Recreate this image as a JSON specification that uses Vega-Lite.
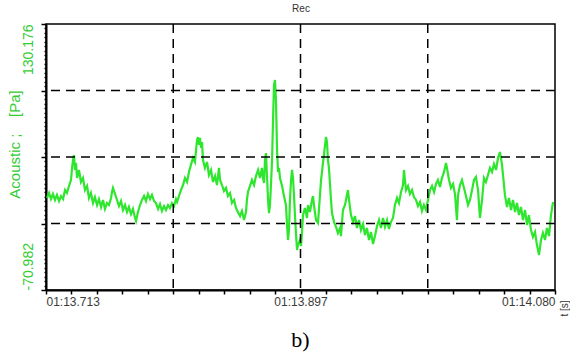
{
  "$schema": "https://vega.github.io/schema/vega-lite/v6.json",
  "width": 509,
  "height": 266,
  "autosize": {"type": "none"},
  "padding": {"left": 46, "top": 24, "right": 15, "bottom": 71},
  "background": "white",
  "config": {"view": {"stroke": "black", "strokeWidth": 1.5}, "font": "Liberation Sans"},
  "title": {"text": "b)", "orient": "bottom", "font": "Liberation Serif", "fontSize": 22, "fontWeight": "normal", "color": "black", "offset": 14},
  "datasets": {
    "signal": [
      {"t":0.7,"p":-1.4},{"t":2.2,"p":2.4},{"t":3.6,"p":-2.2},{"t":5.0,"p":1.6},{"t":6.5,"p":-2.9},{"t":7.9,"p":0.9},{"t":9.4,"p":-3.7},{"t":10.8,"p":0.1},{"t":12.3,"p":-2.2},{"t":13.7,"p":4.6},{"t":15.1,"p":2.4},{"t":16.6,"p":7.7},{"t":18.0,"p":12.2},{"t":18.8,"p":21.3},{"t":19.5,"p":27.3},{"t":20.2,"p":31.1},{"t":20.9,"p":19.8},{"t":21.6,"p":25.1},{"t":22.4,"p":13.7},{"t":23.8,"p":19.8},{"t":25.2,"p":10.7},{"t":26.7,"p":13.7},{"t":28.1,"p":4.6},{"t":29.6,"p":7.7},{"t":31.0,"p":-1.4},{"t":32.4,"p":2.4},{"t":33.9,"p":-5.2},{"t":35.3,"p":-0.7},{"t":36.8,"p":-6.7},{"t":38.2,"p":-2.2},{"t":39.7,"p":-8.2},{"t":41.1,"p":-2.9},{"t":42.5,"p":-9.7},{"t":44.0,"p":-5.2},{"t":45.4,"p":-6.7},{"t":46.9,"p":-1.4},{"t":47.6,"p":3.1},{"t":48.3,"p":6.2},{"t":49.8,"p":1.6},{"t":51.2,"p":-2.9},{"t":52.6,"p":-7.5},{"t":54.1,"p":-3.7},{"t":55.5,"p":-10.5},{"t":57.0,"p":-6.7},{"t":58.4,"p":-12.0},{"t":59.8,"p":-8.2},{"t":61.3,"p":-13.5},{"t":62.7,"p":-9.7},{"t":64.2,"p":-16.5},{"t":64.9,"p":-18.8},{"t":66.3,"p":-12.0},{"t":67.8,"p":-6.7},{"t":69.2,"p":-2.9},{"t":70.7,"p":0.1},{"t":72.1,"p":-3.7},{"t":73.5,"p":1.6},{"t":75.0,"p":-2.2},{"t":76.4,"p":0.9},{"t":77.9,"p":-3.7},{"t":79.3,"p":-5.2},{"t":80.8,"p":-9.7},{"t":82.2,"p":-6.0},{"t":83.6,"p":-11.2},{"t":85.1,"p":-7.5},{"t":86.5,"p":-10.5},{"t":88.0,"p":-6.7},{"t":89.4,"p":-9.0},{"t":90.8,"p":-5.2},{"t":92.3,"p":-7.5},{"t":93.7,"p":-2.2},
      {"t":94.5,"p":-4.4},{"t":95.9,"p":0.1},{"t":97.3,"p":4.6},{"t":98.8,"p":8.4},{"t":100.2,"p":13.7},{"t":101.7,"p":10.7},{"t":103.1,"p":18.3},{"t":104.5,"p":23.6},{"t":106.0,"p":28.8},{"t":107.4,"p":25.8},{"t":108.2,"p":34.9},{"t":108.9,"p":42.5},{"t":109.6,"p":44.7},{"t":110.3,"p":38.7},{"t":111.0,"p":44.0},{"t":111.8,"p":36.4},{"t":112.5,"p":40.9},{"t":113.2,"p":27.3},{"t":114.6,"p":21.3},{"t":116.1,"p":25.8},{"t":117.5,"p":16.0},{"t":119.0,"p":19.8},{"t":120.4,"p":10.7},{"t":121.9,"p":15.2},{"t":123.3,"p":8.4},{"t":124.7,"p":21.3},{"t":125.5,"p":12.2},{"t":126.9,"p":8.4},{"t":128.3,"p":3.9},{"t":129.8,"p":6.2},{"t":131.2,"p":0.1},{"t":132.7,"p":2.4},{"t":134.1,"p":-5.2},{"t":135.6,"p":-2.9},{"t":137.0,"p":-9.0},{"t":138.4,"p":-12.0},{"t":139.9,"p":-15.0},{"t":141.3,"p":-11.2},{"t":142.8,"p":-18.1},{"t":144.2,"p":-12.0},{"t":144.9,"p":-2.9},{"t":145.6,"p":3.1},{"t":147.1,"p":7.7},{"t":148.5,"p":12.2},{"t":150.0,"p":8.4},{"t":151.4,"p":15.2},{"t":152.9,"p":19.8},{"t":154.3,"p":13.7},{"t":155.7,"p":21.3},{"t":156.5,"p":13.7},{"t":157.2,"p":9.9},{"t":157.9,"p":27.3},{"t":158.6,"p":32.6},{"t":159.3,"p":16.0},{"t":160.1,"p":-2.9},{"t":160.8,"p":-12.8},{"t":161.5,"p":-6.7},{"t":162.2,"p":8.4},{"t":163.0,"p":27.3},{"t":163.7,"p":57.6},{"t":164.4,"p":84.0},{"t":165.1,"p":87.8},{"t":165.8,"p":72.7},{"t":166.6,"p":34.9},{"t":167.3,"p":18.3},{"t":168.0,"p":21.3},{"t":168.7,"p":13.7},{"t":170.2,"p":7.7},{"t":171.6,"p":0.1},{"t":173.0,"p":-6.7},{"t":173.8,"p":-21.8},{"t":174.5,"p":-33.2},{"t":175.2,"p":-25.6},{"t":175.9,"p":-2.9},{"t":176.7,"p":12.2},{"t":177.4,"p":19.8},{"t":178.1,"p":13.7},{"t":178.8,"p":0.9},{"t":179.5,"p":-14.3},{"t":180.3,"p":-29.4},{"t":181.0,"p":-40.7},{"t":181.7,"p":-37.0},{"t":183.1,"p":-33.2},{"t":183.9,"p":-37.7},
      {"t":184.6,"p":-27.1},{"t":185.3,"p":-14.3},{"t":186.7,"p":-9.0},{"t":188.2,"p":-16.5},{"t":188.9,"p":-6.7},{"t":190.3,"p":-12.0},{"t":191.8,"p":-2.9},{"t":192.5,"p":0.1},{"t":193.2,"p":-6.7},{"t":194.7,"p":-18.1},{"t":196.1,"p":-20.3},{"t":196.8,"p":-10.5},{"t":198.3,"p":12.2},{"t":199.0,"p":18.3},{"t":199.7,"p":25.1},{"t":200.4,"p":31.1},{"t":201.2,"p":38.7},{"t":201.9,"p":44.7},{"t":202.6,"p":40.9},{"t":203.3,"p":27.3},{"t":204.0,"p":21.3},{"t":204.8,"p":8.4},{"t":205.5,"p":-2.9},{"t":206.2,"p":-12.8},{"t":207.7,"p":-19.6},{"t":209.1,"p":-23.3},{"t":210.5,"p":-27.9},{"t":212.0,"p":-24.1},{"t":212.7,"p":-30.2},{"t":214.1,"p":-10.5},{"t":215.6,"p":-6.7},{"t":217.0,"p":0.9},{"t":217.7,"p":4.6},{"t":218.5,"p":-2.9},{"t":219.9,"p":-14.3},{"t":221.4,"p":-19.6},{"t":222.8,"p":-15.0},{"t":224.2,"p":-24.1},{"t":225.7,"p":-18.1},{"t":227.1,"p":-25.6},{"t":228.6,"p":-21.1},{"t":230.0,"p":-29.4},{"t":231.4,"p":-24.1},{"t":232.9,"p":-33.2},{"t":234.3,"p":-27.1},{"t":235.8,"p":-36.2},{"t":237.2,"p":-30.2},{"t":238.7,"p":-22.6},{"t":240.1,"p":-18.1},{"t":241.5,"p":-24.1},{"t":243.0,"p":-16.5},{"t":244.4,"p":-23.3},{"t":245.9,"p":-18.1},{"t":247.3,"p":-24.9},{"t":248.7,"p":-19.6},{"t":250.2,"p":-16.5},{"t":251.6,"p":-6.7},{"t":253.1,"p":-1.4},{"t":254.5,"p":-5.2},{"t":256.0,"p":3.1},{"t":257.4,"p":8.4},{"t":258.1,"p":19.8},{"t":258.8,"p":12.2},{"t":259.6,"p":4.6},{"t":261.0,"p":7.7},{"t":262.4,"p":1.6},{"t":263.9,"p":4.6},{"t":265.3,"p":-0.7},{"t":266.8,"p":-2.9},{"t":268.2,"p":-7.5},{"t":269.7,"p":-4.4},{"t":271.1,"p":-11.2},{"t":272.5,"p":-6.7},{"t":274.0,"p":-10.5},
      {"t":275.4,"p":-2.9},{"t":276.9,"p":4.6},{"t":278.3,"p":7.7},{"t":279.8,"p":3.1},{"t":281.2,"p":9.2},{"t":282.6,"p":12.2},{"t":284.1,"p":6.9},{"t":285.5,"p":13.7},{"t":287.0,"p":18.3},{"t":288.4,"p":25.1},{"t":289.1,"p":21.3},{"t":290.6,"p":12.2},{"t":292.0,"p":6.2},{"t":293.5,"p":9.2},{"t":294.9,"p":1.6},{"t":296.3,"p":-18.1},{"t":297.1,"p":0.9},{"t":298.5,"p":8.4},{"t":299.9,"p":12.2},{"t":301.4,"p":6.2},{"t":302.8,"p":0.1},{"t":304.3,"p":-6.7},{"t":305.7,"p":-2.9},{"t":307.2,"p":4.6},{"t":308.6,"p":12.2},{"t":310.0,"p":14.5},{"t":311.5,"p":4.6},{"t":312.9,"p":-16.5},{"t":314.4,"p":-2.9},{"t":315.8,"p":13.7},{"t":317.2,"p":10.7},{"t":318.7,"p":16.0},{"t":320.1,"p":21.3},{"t":321.6,"p":18.3},{"t":323.0,"p":24.3},{"t":324.5,"p":19.8},{"t":325.9,"p":28.8},{"t":327.3,"p":33.4},{"t":328.8,"p":23.6},{"t":329.5,"p":16.0},{"t":330.9,"p":0.9},{"t":332.4,"p":-8.2},{"t":333.8,"p":-1.4},{"t":335.3,"p":-10.5},{"t":336.7,"p":-2.9},{"t":338.2,"p":-12.0},{"t":339.6,"p":-5.2},{"t":341.0,"p":-14.3},{"t":342.5,"p":-8.2},{"t":343.9,"p":-18.1},{"t":345.4,"p":-10.5},{"t":346.8,"p":-21.8},{"t":348.2,"p":-14.3},{"t":349.7,"p":-25.6},{"t":351.1,"p":-30.9},{"t":352.6,"p":-27.1},{"t":354.0,"p":-37.0},{"t":355.5,"p":-44.5},{"t":356.9,"p":-33.2},{"t":358.3,"p":-27.9},{"t":359.8,"p":-33.2},{"t":361.2,"p":-24.1},{"t":362.7,"p":-30.2},{"t":364.1,"p":-14.3},{"t":365.6,"p":-4.4}
    ],
    "vgrid": [{"gx": 91.75}, {"gx": 183.5}, {"gx": 275.25}],
    "hgrid": [{"gy": -20.6925}, {"gy": 29.597}, {"gy": 79.8865}]
  },
  "layer": [
    {
      "data": {"name": "signal"},
      "mark": {"type": "line", "color": "#2ee62e", "strokeWidth": 2.2, "clip": true},
      "encoding": {
        "x": {
          "field": "t", "type": "quantitative",
          "scale": {"domain": [0, 367], "nice": false, "zero": false},
          "axis": {
            "orient": "bottom",
            "values": [0, 18.35, 36.7, 55.05, 73.4, 91.75, 110.1, 128.45, 146.8, 165.15, 183.5, 201.85, 220.2, 238.55, 256.9, 275.25, 293.6, 311.95, 330.3, 348.65, 367],
            "labelExpr": "(datum.value < 0.1 || abs(datum.value - 183.5) < 0.1 || datum.value > 366.9) ? '01:' + format(13.713 + datum.value / 1000 + 0.00001, '06.3f') : ''",
            "labelFlush": true, "labelOverlap": false, "labelBound": false,
            "labelColor": "#3a3a3a", "labelFontSize": 12, "labelFont": "Liberation Sans", "labelPadding": 2,
            "tickColor": "black", "tickSize": 4, "tickWidth": 1.5,
            "domainColor": "black", "domainWidth": 2, "grid": false,
            "title": "t [s]", "titleFontSize": 10, "titleFontWeight": "normal", "titleColor": "#333333",
            "titleAngle": 270, "titleX": 518, "titleY": 18, "titleAlign": "center", "titleBaseline": "middle"
          }
        },
        "y": {
          "field": "p", "type": "quantitative",
          "scale": {"domain": [-70.982, 130.176], "nice": false, "zero": false},
          "axis": {
            "orient": "left",
            "values": [-70.982, -67.629, -64.277, -60.924, -57.571, -54.219, -50.866, -47.514, -44.161, -40.808, -37.456, -34.103, -30.750, -27.398, -24.045, -20.6925, -17.340, -13.987, -10.635, -7.282, -3.929, -0.577, 2.776, 6.129, 9.481, 12.834, 16.186, 19.539, 22.892, 26.244, 29.597, 32.950, 36.302, 39.655, 43.007, 46.360, 49.713, 53.065, 56.418, 59.771, 63.123, 66.476, 69.828, 73.181, 76.534, 79.8865, 83.239, 86.592, 89.944, 93.297, 96.649, 100.002, 103.355, 106.707, 110.060, 113.413, 116.765, 120.118, 123.470, 126.823, 130.176],
            "labelExpr": "abs(datum.value - 130.176) < 0.01 ? format(datum.value, '.3f') : abs(datum.value + 70.982) < 0.01 ? '-' + format(abs(datum.value), '.3f') : ''",
            "labelAngle": 270,
            "labelAlign": {"condition": {"test": "datum.value > 0", "value": "right"}, "value": "left"},
            "labelBaseline": "bottom",
            "labelOverlap": false, "labelBound": false, "labelFlush": false,
            "labelColor": "#33cc33", "labelFontSize": 14, "labelFont": "Liberation Sans", "labelPadding": 6,
            "tickColor": "black", "tickWidth": 1.5,
            "tickSize": {"condition": {"test": "abs(datum.value + 20.6925) < 0.01 || abs(datum.value - 29.597) < 0.01 || abs(datum.value - 79.8865) < 0.01 || abs(datum.value - 130.176) < 0.01 || abs(datum.value + 70.982) < 0.01", "value": 5}, "value": 2},
            "domainColor": "black", "domainWidth": 2, "grid": false,
            "title": "Acoustic ;\u00a0\u00a0\u00a0\u00a0[Pa]", "titleColor": "#33cc33", "titleFontSize": 15, "titleFontWeight": "normal",
            "titleX": -32, "titleY": 120, "titleAngle": 270, "titleAlign": "center", "titleBaseline": "middle"
          }
        }
      }
    },
    {
      "data": {"name": "vgrid"},
      "mark": {"type": "rule", "color": "black", "strokeWidth": 1.5, "strokeDash": [9, 6]},
      "encoding": {
        "x": {
          "field": "gx", "type": "quantitative",
          "scale": {"domain": [0, 367], "nice": false, "zero": false},
          "axis": {
            "orient": "top", "labels": false, "ticks": false, "domain": false, "grid": false,
            "title": "Rec", "titleFontSize": 10, "titleFontWeight": "normal", "titleColor": "#333333",
            "titleY": -16, "titleBaseline": "middle"
          }
        }
      }
    },
    {
      "data": {"name": "hgrid"},
      "mark": {"type": "rule", "color": "black", "strokeWidth": 1.5, "strokeDash": [9, 6]},
      "encoding": {
        "y": {
          "field": "gy", "type": "quantitative",
          "scale": {"domain": [-70.982, 130.176], "nice": false, "zero": false},
          "axis": {"orient": "right", "labels": false, "ticks": false, "domain": false, "grid": false, "title": null}
        }
      }
    }
  ],
  "resolve": {"axis": {"x": "independent", "y": "independent"}}
}
